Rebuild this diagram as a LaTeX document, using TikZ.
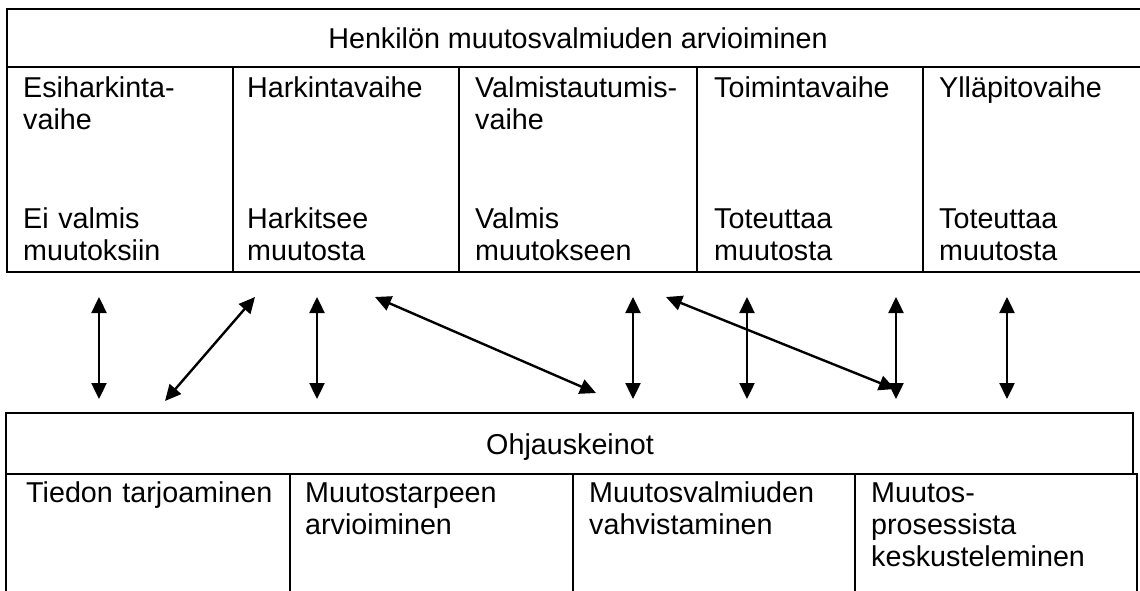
\documentclass[tikz,border=0pt]{standalone}
\usepackage{fontspec}
\setmainfont{Liberation Sans}
\usepackage{tikz}
\usetikzlibrary{arrows.meta}

\begin{document}
\begin{tikzpicture}[x = 1pt, y = -1pt,
		font = \fontsize{28.7}{32}\selectfont,
		grid/.style = {line width = 2.5pt},
		link/.style = {{Triangle[length = 16pt, width = 15pt]}-{Triangle[length = 16pt, width = 15pt]}, line width = 2.4pt},
		cell/.style = {anchor = base west, align = left, inner sep = 0pt, text width = 215pt}]
						\useasboundingbox (0,0) rectangle (1140,590);
						\clip (0,0) rectangle (1140,590);
						\begin{scope}
							\draw [grid] (1150,9) -- (7,9) -- (7,272) -- (1150,272);
							\draw [grid] (7,67) -- (1150,67);
							\foreach \x in {233,459,697,923}
								\draw [grid] (\x,67) -- (\x,272);
						\end{scope}
						\begin{scope}
							\node (arvio) [anchor = base, inner sep = 0pt] at (578,48) {Henkilön muutosvalmiuden arvioiminen};
							\node (esi) [cell] at (23,97) {Esiharkinta-\\vaihe};
							\node (har) [cell] at (247,97) {Harkintavaihe};
							\node (val) [cell] at (475,97) {Valmistautumis-\\vaihe};
							\node (toi) [cell] at (714,97) {Toimintavaihe};
							\node (yll) [cell] at (939,97) {Ylläpitovaihe};
							\node (esitila) [cell] at (23,228) {Ei valmis\\muutoksiin};
							\node (hartila) [cell] at (247,228) {Harkitsee\\muutosta};
							\node (valtila) [cell] at (475,228) {Valmis\\muutokseen};
							\node (toitila) [cell] at (714,228) {Toteuttaa\\muutosta};
							\node (ylltila) [cell] at (939,228) {Toteuttaa\\muutosta};
						\end{scope}
						\begin{scope}
							\draw [grid] (6,600) -- (6,413) -- (1133,413) -- (1133,474);
							\draw [grid] (6,474) -- (1137,474) -- (1137,600);
							\foreach \x in {290,573,855}
								\draw [grid] (\x,474) -- (\x,600);
						\end{scope}
						\begin{scope}
							\node (ohjaus) [anchor = base, inner sep = 0pt] at (570,454) {Ohjauskeinot};
							\node (tieto) [cell, text width = 260pt] at (26,502) {Tiedon tarjoaminen};
							\node (tarve) [cell, text width = 260pt] at (305,502) {Muutostarpeen\\arvioiminen};
							\node (vahvistus) [cell, text width = 260pt] at (589,502) {Muutosvalmiuden\\vahvistaminen};
							\node (prosessi) [cell, text width = 260pt] at (871,502) {Muutos-\\prosessista\\keskusteleminen};
						\end{scope}
						\begin{scope}
							\foreach \x [count = \i] in {99,317,633,747,896,1007} {
								\coordinate (up\i) at (\x,297);
								\coordinate (dn\i) at (\x,399);
								\draw [link] (up\i) -- (dn\i);
							}
							\coordinate (upa) at (255,297);
							\coordinate (dna) at (165,401);
							\coordinate (upb) at (375,297);
							\coordinate (dnb) at (596,393);
							\coordinate (upc) at (666,297);
							\coordinate (dnc) at (895,389);
							\draw [link] (upa) -- (dna);
							\draw [link] (upb) -- (dnb);
							\draw [link] (upc) -- (dnc);
						\end{scope}
					\end{tikzpicture}
\end{document}
